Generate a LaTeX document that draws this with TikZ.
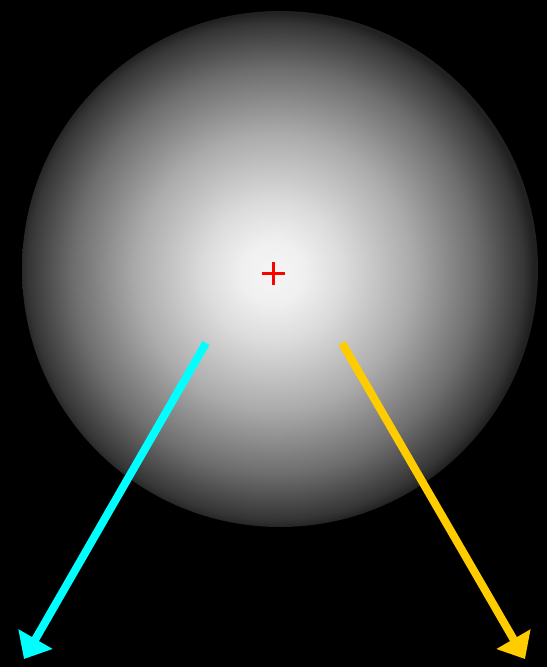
\documentclass[tikz,border=0pt]{standalone}
\usetikzlibrary{arrows.meta}
\pgfdeclareradialshading{ballshade}{\pgfpoint{-0.75bp}{-0.35bp}}{%
  color(0bp)=(black!4);
  color(3bp)=(black!6);
  color(6.8bp)=(black!14);
  color(13.4bp)=(black!33);
  color(19.6bp)=(black!57);
  color(24bp)=(black!79);
  color(25bp)=(black!87);
  color(50bp)=(black!87)}
\definecolor{arrcyan}{HTML}{00FFFF}
\definecolor{arryellow}{HTML}{FFCC00}
\tikzset{
  vec/.style={line width=8pt, -{Triangle[length=23pt,width=38pt]}},
  cross/.style={draw=red, line width=3pt}
}
\begin{document}
\begin{tikzpicture}[x=1pt,y=-1pt]
  \fill[black] (0,0) rectangle (547,667);
  \useasboundingbox (0,0) rectangle (547,667);
  \shade[shading=ballshade] (280,269) circle[radius=258];
  \coordinate (mid) at (273,273);
  \draw[cross] ([xshift=-11.5pt]mid) -- ([xshift=11.5pt]mid);
  \draw[cross] ([yshift=-11.5pt]mid) -- ([yshift=11.5pt]mid);
  \coordinate (cs) at (206,343);
  \coordinate (ce) at (24,659);
  \coordinate (ys) at (342,343);
  \coordinate (ye) at (525,659);
  \draw[vec, arrcyan] (cs) -- (ce);
  \draw[vec, arryellow] (ys) -- (ye);
\end{tikzpicture}
\end{document}
